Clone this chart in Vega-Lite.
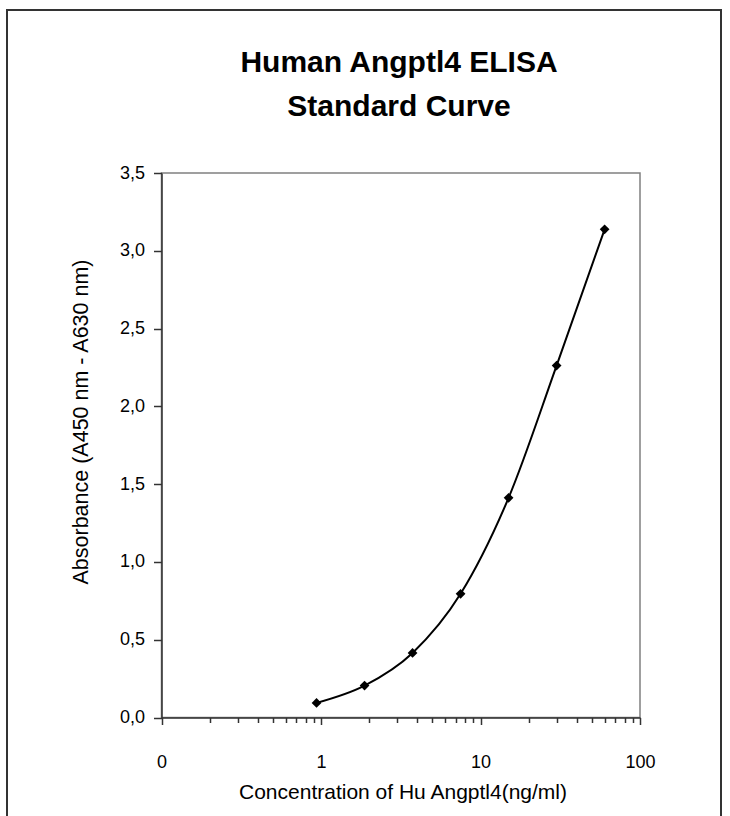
{
  "$schema": "https://vega.github.io/schema/vega-lite/v6.json",
  "width": 714,
  "height": 812,
  "autosize": "none",
  "padding": {"left": 7, "top": 10, "right": 9, "bottom": -6},
  "background": "white",
  "config": {
    "view": {"stroke": "#333333", "strokeWidth": 2},
    "font": "Liberation Sans"
  },
  "title": {
    "text": ["Human Angptl4 ELISA", "Standard Curve"],
    "font": "Liberation Sans",
    "fontSize": 30,
    "fontWeight": "bold",
    "color": "#000000",
    "lineHeight": 44,
    "anchor": "middle",
    "frame": "group",
    "offset": -108,
    "dx": 35,
    "dy": 4
  },
  "datasets": {
    "curve": [
      {"conc": 0.9375, "abs": 0.094},
      {"conc": 1.875, "abs": 0.205},
      {"conc": 3.75, "abs": 0.415},
      {"conc": 7.5, "abs": 0.795},
      {"conc": 15, "abs": 1.412},
      {"conc": 30, "abs": 2.262},
      {"conc": 60, "abs": 3.138}
    ]
  },
  "layer": [
    {
      "data": {"values": [{}]},
      "mark": {"type": "rect", "fill": "white", "fillOpacity": 0, "stroke": "#808080", "strokeWidth": 1.5},
      "encoding": {
        "x": {"datum": 0.1, "type": "quantitative"},
        "x2": {"datum": 100},
        "y": {"datum": 0, "type": "quantitative"},
        "y2": {"datum": 3.5}
      }
    },
    {
      "data": {"name": "curve"},
      "mark": {"type": "line", "interpolate": "monotone", "color": "#000000", "strokeWidth": 2},
      "encoding": {
        "x": {
          "field": "conc",
          "type": "quantitative",
          "scale": {"type": "log", "domain": [0.1, 100], "range": [154.5, 633], "nice": false},
          "axis": {
            "orient": "bottom",
            "offset": -104.5,
            "values": [0.1, 0.2, 0.3, 0.4, 0.5, 0.6, 0.7, 0.8, 0.9, 1, 2, 3, 4, 5, 6, 7, 8, 9, 10, 20, 30, 40, 50, 60, 70, 80, 90, 100],
            "labelExpr": "datum.value == 0.1 ? '0' : datum.value == 1 ? '1' : datum.value == 10 ? '10' : datum.value == 100 ? '100' : ''",
            "tickSize": {"condition": {"test": "datum.value == 0.1 || datum.value == 1 || datum.value == 10 || datum.value == 100", "value": 7}, "value": 5},
            "labelPadding": 42.5,
            "labelBaseline": "alphabetic",
            "labelFontSize": 18,
            "labelFont": "Liberation Sans",
            "labelColor": "#000000",
            "labelFlush": false,
            "labelOverlap": false,
            "domainColor": "#333333",
            "domainWidth": 1.5,
            "tickColor": "#333333",
            "tickWidth": 1.5,
            "grid": false,
            "title": "Concentration of Hu Angptl4(ng/ml)",
            "titleFont": "Liberation Sans",
            "titleFontSize": 21,
            "titleFontWeight": "normal",
            "titleColor": "#000000",
            "titleX": 395.5,
            "titleY": 81,
            "titleAlign": "center",
            "titleBaseline": "alphabetic",
            "zindex": 1
          }
        },
        "y": {
          "field": "abs",
          "type": "quantitative",
          "scale": {"domain": [0, 3.5], "range": [707.5, 163], "nice": false, "zero": false},
          "axis": {
            "orient": "left",
            "offset": -154.5,
            "values": [0, 0.5, 1, 1.5, 2, 2.5, 3, 3.5],
            "labelExpr": "replace(format(datum.value, '.1f'), '.', ',')",
            "tickSize": 8,
            "labelPadding": 9,
            "labelFontSize": 18,
            "labelFont": "Liberation Sans",
            "labelColor": "#000000",
            "labelFlush": false,
            "labelOverlap": false,
            "domainColor": "#333333",
            "domainWidth": 1.5,
            "tickColor": "#333333",
            "tickWidth": 1.5,
            "grid": false,
            "title": "Absorbance (A450 nm - A630 nm)",
            "titleFont": "Liberation Sans",
            "titleFontSize": 21.5,
            "titleFontWeight": "normal",
            "titleColor": "#000000",
            "titleAngle": 270,
            "titleX": -74.5,
            "titleY": 411.5,
            "titleAlign": "center",
            "titleBaseline": "alphabetic",
            "zindex": 1
          }
        }
      }
    },
    {
      "data": {"name": "curve"},
      "mark": {"type": "point", "shape": "diamond", "filled": true, "color": "#000000", "size": 95, "opacity": 1},
      "encoding": {
        "x": {"field": "conc", "type": "quantitative"},
        "y": {"field": "abs", "type": "quantitative"}
      }
    }
  ]
}
